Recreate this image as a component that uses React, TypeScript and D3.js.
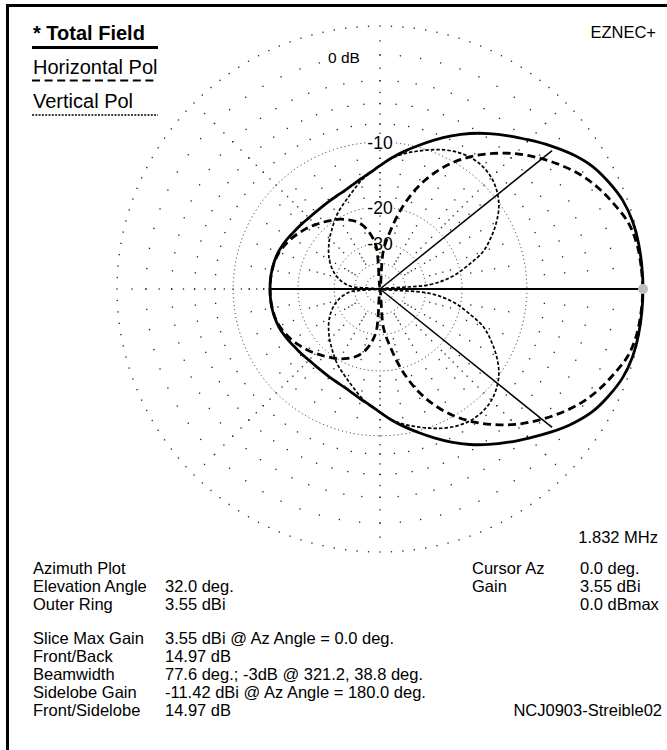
import React from 'react';
import * as d3 from 'd3';

// ---- data (dB relative to max, azimuth in degrees, upper half; pattern is symmetric) ----
const azimuths = [0, 5, 10, 15, 20, 25, 30, 35, 40, 45, 50, 55, 60, 65, 70, 75, 80, 85, 90, 95, 100, 105, 110, 115, 120, 125, 130, 135, 140, 145, 150, 155, 160, 165, 170, 175, 180];
const totalField = [0, -0.01, -0.03, -0.1, -0.3, -0.7, -1.2, -1.95, -2.85, -3.8, -4.7, -5.6, -6.55, -7.6, -8.7, -9.8, -10.85, -11.9, -13.0, -13.95, -14.7, -15.35, -15.85, -16.15, -16.35, -16.5, -16.55, -16.5, -16.3, -16.1, -15.8, -15.5, -15.25, -15.1, -15.0, -14.97, -14.97];
const horizontalPol = [-0.02, -0.06, -0.15, -0.4, -0.95, -1.55, -2.3, -3.25, -4.3, -5.45, -6.8, -8.3, -10.1, -12.4, -15.4, -19.7, -25.8, -33, -99, -31.5, -26.5, -23.8, -22.2, -21.2, -20.3, -19.6, -18.9, -18.2, -17.5, -16.9, -16.3, -15.8, -15.4, -15.15, -15.05, -14.98, -14.97];
const verticalPol = [-99, -28.5, -21.8, -18.2, -15.0, -13.1, -11.5, -10.2, -9.35, -8.8, -8.55, -8.55, -8.8, -9.25, -9.85, -10.5, -11.15, -11.95, -13.0, -13.95, -15.0, -16.2, -17.3, -18.25, -19.2, -20.3, -21.4, -22.4, -23.5, -24.6, -25.8, -27.2, -28.8, -30.8, -33.5, -38, -99];

const ringLabels = [-10, -20, -30];
const beamwidthAz = [38.8, 321.2];
const cursorAz = 0;
const backAz = 180;

const legendLabels = ['* Total Field', 'Horizontal Pol', 'Vertical Pol'];

const infoBlockA: [string, string][] = [
  ['Azimuth Plot', ''],
  ['Elevation Angle', '32.0 deg.'],
  ['Outer Ring', '3.55 dBi'],
];
const infoBlockB: [string, string][] = [
  ['Slice Max Gain', '3.55 dBi @ Az Angle = 0.0 deg.'],
  ['Front/Back', '14.97 dB'],
  ['Beamwidth', '77.6 deg.; -3dB @ 321.2, 38.8 deg.'],
  ['Sidelobe Gain', '-11.42 dBi @ Az Angle = 180.0 deg.'],
  ['Front/Sidelobe', '14.97 dB'],
];
const cursorInfo: [string, string][] = [
  ['Cursor Az', '0.0 deg.'],
  ['Gain', '3.55 dBi'],
  ['', '0.0 dBmax'],
];
const freqLabel = '1.832 MHz';
const brandLabel = 'EZNEC+';
const fileLabel = 'NCJ0903-Streible02';

// grid rings (dB)
const sparseRings = [-2, -4, -6, -8, -12, -14, -16, -18, -22, -24, -26, -28, -32, -34, -36, -38];
const denseRings = [-10, -20, -30, -40, -50];

const W = 667;
const H = 750;
const cx = 380;
const cy = 289;
const R = 263;
const FONT = "'Liberation Sans', Arial, Helvetica, sans-serif";

// ARRL log scale: radius shrinks by 0.89 per 2 dB
const logR = d3.scaleLinear().domain([0, -2]).range([Math.log(R), Math.log(R) + Math.log(0.89)]);
const rScale = (db: number) => Math.exp(logR(db));

const toRad = (az: number) => (az * Math.PI) / 180;
const px = (az: number, db: number) => rScale(db) * Math.cos(toRad(az));
const py = (az: number, db: number) => -rScale(db) * Math.sin(toRad(az));

function fullPattern(vals: number[]): [number, number][] {
  const pts: [number, number][] = azimuths.map((a, i) => [a, vals[i]]);
  for (let i = azimuths.length - 2; i >= 1; i--) pts.push([360 - azimuths[i], vals[i]]);
  return pts;
}

const radial = d3
  .lineRadial<[number, number]>()
  .angle((d) => ((90 - d[0]) * Math.PI) / 180)
  .radius((d) => rScale(d[1]))
  .curve(d3.curveCatmullRomClosed.alpha(0.5));

export default function App() {
  const dots: { x: number; y: number }[] = [];
  for (let a = 0; a < 360; a += 2.5) dots.push({ x: px(a, 0), y: py(a, 0) });
  sparseRings.forEach((db) => {
    const step = db > -10 ? 5 : db > -20 ? 10 : db > -30 ? 15 : 30;
    for (let a = 0; a < 360; a += step) dots.push({ x: px(a, db), y: py(a, db) });
  });
  for (let a = 0; a < 360; a += 45) {
    for (let db = -1; db >= -19; db--) dots.push({ x: px(a, db), y: py(a, db) });
  }

  const total = fullPattern(totalField);
  const hpol = fullPattern(horizontalPol);
  const vpol = fullPattern(verticalPol);

  const bwDb = beamwidthAz.map(() => -3);
  const backDb = totalField[azimuths.indexOf(backAz)];
  const curDb = totalField[azimuths.indexOf(cursorAz)];

  const legendY = [40, 74, 108];
  const legendLineY = [47.5, 80.5, 115];

  return (
    <svg width={W} height={H} style={{ position: 'absolute', left: 0, top: 0, background: '#fff' }} fontFamily={FONT}>
      <rect x={0} y={0} width={W} height={H} fill="#fff" />
      {/* frame */}
      <line x1={6} y1={5.5} x2={W} y2={5.5} stroke="#000" strokeWidth={3} />
      <line x1={7.5} y1={4} x2={7.5} y2={H} stroke="#000" strokeWidth={3} />

      <g transform={`translate(${cx},${cy})`}>
        {/* grid */}
        {dots.map((d, i) => (
          <rect key={i} x={d.x - 0.65} y={d.y - 0.65} width={1.3} height={1.3} fill="#222" />
        ))}
        {denseRings.map((db) => (
          <circle key={db} r={rScale(db)} fill="none" stroke="#222" strokeWidth={1} strokeDasharray="1 3" />
        ))}

        {/* ring labels (masked background) */}
        <rect x={-54} y={-R + 23} width={36} height={17} fill="#fff" />
        <text x={-36} y={-R + 36.5} fontSize={15.5} textAnchor="middle">0 dB</text>
        {ringLabels.map((db) => (
          <g key={db}>
            <rect x={-14} y={-rScale(db) - 7} width={28} height={15} fill="#fff" />
            <text x={0} y={-rScale(db) + 7} fontSize={17.5} textAnchor="middle">
              {db}
            </text>
          </g>
        ))}

        {/* reference lines */}
        <line x1={px(backAz, backDb)} y1={0} x2={px(cursorAz, curDb)} y2={0} stroke="#000" strokeWidth={2} />
        {beamwidthAz.map((a, i) => (
          <line key={a} x1={0} y1={0} x2={px(a, bwDb[i])} y2={py(a, bwDb[i])} stroke="#000" strokeWidth={1.5} />
        ))}

        {/* patterns */}
        <path d={radial(vpol) || ''} fill="none" stroke="#000" strokeWidth={1.7} strokeDasharray="3.5 2" />
        <path d={radial(hpol) || ''} fill="none" stroke="#000" strokeWidth={2.8} strokeDasharray="8 4.5" />
        <path d={radial(total) || ''} fill="none" stroke="#000" strokeWidth={2.8} />

        {/* cursor */}
        <circle cx={px(cursorAz, curDb)} cy={py(cursorAz, curDb)} r={5} fill="#bdbdbd" />
      </g>

      {/* legend */}
      <text x={33} y={legendY[0]} fontSize={20} fontWeight="bold">{legendLabels[0]}</text>
      <line x1={32} y1={legendLineY[0]} x2={158} y2={legendLineY[0]} stroke="#000" strokeWidth={2.8} />
      <text x={33} y={legendY[1]} fontSize={20}>{legendLabels[1]}</text>
      <line x1={32} y1={legendLineY[1]} x2={158} y2={legendLineY[1]} stroke="#000" strokeWidth={2} strokeDasharray="8 4.6" />
      <text x={33} y={legendY[2]} fontSize={20}>{legendLabels[2]}</text>
      <line x1={32} y1={legendLineY[2]} x2={158} y2={legendLineY[2]} stroke="#000" strokeWidth={1.5} strokeDasharray="2 1.3" />

      <text x={656} y={38} fontSize={16.5} textAnchor="end">{brandLabel}</text>
      <text x={658} y={543} fontSize={16.5} textAnchor="end">{freqLabel}</text>

      {infoBlockA.map((row, i) => (
        <g key={'a' + i} fontSize={16.5}>
          <text x={33} y={574 + i * 18}>{row[0]}</text>
          <text x={165} y={574 + i * 18}>{row[1]}</text>
        </g>
      ))}
      {infoBlockB.map((row, i) => (
        <g key={'b' + i} fontSize={16.5}>
          <text x={33} y={644 + i * 18}>{row[0]}</text>
          <text x={165} y={644 + i * 18}>{row[1]}</text>
        </g>
      ))}
      {cursorInfo.map((row, i) => (
        <g key={'c' + i} fontSize={16.5}>
          <text x={472} y={574 + i * 18}>{row[0]}</text>
          <text x={580} y={574 + i * 18}>{row[1]}</text>
        </g>
      ))}
      <text x={662} y={716} fontSize={16.5} textAnchor="end">{fileLabel}</text>
    </svg>
  );
}
